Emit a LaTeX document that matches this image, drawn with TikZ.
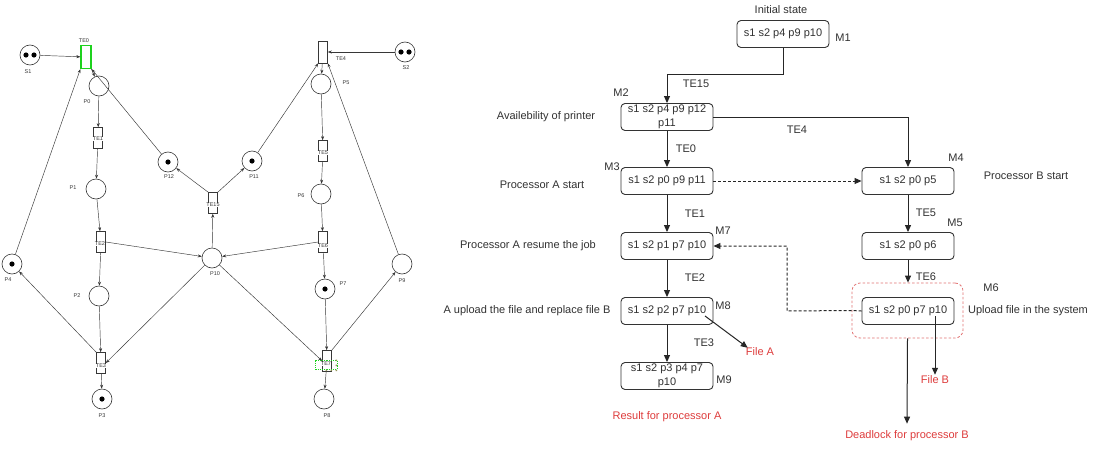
\documentclass[tikz,border=0pt]{standalone}
\usepackage{fontspec}
\setmainfont{Liberation Sans}
\usetikzlibrary{arrows.meta}
\definecolor{txt}{RGB}{50,50,50}
\definecolor{redtxt}{RGB}{222,60,60}
\definecolor{redbox}{RGB}{226,115,115}
\definecolor{selgreen}{RGB}{30,210,30}
\definecolor{handle}{RGB}{150,150,90}
\definecolor{netgray}{RGB}{55,55,55}
\begin{document}
\begin{tikzpicture}[x=1pt,y=-1pt,
  every node/.style={text=txt},
  state/.style={draw=black!80, rounded corners=4pt, minimum width=92pt, minimum height=27pt,
    inner sep=1pt, align=center, font=\fontsize{11}{13.5}\selectfont, line width=0.9pt},
  note/.style={font=\fontsize{11}{13}\selectfont, inner sep=1pt},
  rnote/.style={note, text=redtxt},
  arr/.style={-{Triangle[length=7pt,width=6pt]}, line width=1pt, black!85},
  darr/.style={arr, dash pattern=on 3pt off 2pt},
  place/.style={circle, draw=netgray, line width=0.6pt, minimum size=20pt, inner sep=0pt},
  trans/.style={draw=netgray, line width=0.6pt, minimum width=9pt, minimum height=21pt, inner sep=0pt},
  seltrans/.style={draw=selgreen, line width=1.3pt, minimum width=10pt, minimum height=23pt, inner sep=0pt},
  tlabel/.style={font=\fontsize{5.5}{5.5}\selectfont, fill=white, inner sep=0.4pt, text=netgray},
  plabel/.style={font=\fontsize{5.5}{6}\selectfont, inner sep=0.5pt, text=netgray},
  pn/.style={-{Stealth[length=4pt,width=3pt]}, line width=0.45pt, netgray}
]
\fill[white] (0,0) rectangle (1099,455);
\useasboundingbox (0,0) rectangle (1099,455);

% ---------------- Petri net ----------------
% places
\node[place] (S1) at (30,55) {};
\node[place] (P0) at (99,86) {};
\node[place] (P1) at (96,189) {};
\node[place] (P12) at (168,162) {};
\node[place] (P11) at (252,161) {};
\node[place] (S2) at (405,52) {};
\node[place] (P5) at (321,84) {};
\node[place] (P6) at (321,194) {};
\node[place] (P10) at (212,258) {};
\node[place] (P7) at (325,289) {};
\node[place] (P9) at (402,264) {};
\node[place] (P8) at (324,399) {};
\node[place] (P4) at (12,264) {};
\node[place] (P2) at (99,296) {};
\node[place] (P3) at (102,399) {};
% tokens
\fill[black] (26,55) circle (2.6) (34,55) circle (2.6);
\fill[black] (401,52) circle (2.6) (409,52) circle (2.6);
\fill[black] (168,162) circle (2.6);
\fill[black] (252,161) circle (2.6);
\fill[black] (325,289) circle (2.6);
\fill[black] (12,264) circle (2.6);
\fill[black] (102,399) circle (2.6);

% transitions
\node[trans] (TE1) at (98,138) {};
\node[trans] (TE2) at (101,242) {};
\node[trans] (TE3) at (101,363) {};
\node[trans] (TE15) at (213,203) {};
\node[trans, minimum height=22pt] (TE4) at (323,52) {};
\node[trans] (TE5) at (323,151) {};
\node[trans] (TE6) at (323,242) {};
\node[trans] (TE7) at (327,361) {};

% arcs
\draw[pn] (P0) -- (TE1);
\draw[pn] (TE1) -- (P1);
\draw[pn] (P1) -- (TE2);
\draw[pn] (TE2) -- (P2);
\draw[pn] (TE2.east) -- (P10);
\draw[pn] (P2) -- (TE3);
\draw[pn] (P10) -- (TE3.east);
\draw[pn] (TE3) -- (P3);
\draw[pn] (TE3.north west) -- (P4);
\draw[pn] (TE15.north west) -- (P12);
\draw[pn] (TE15.north east) -- (P11);
\draw[pn] (P10) -- (TE15);
\draw[pn] (P11) -- (TE4.south west);
\draw[pn] (S2) -- (TE4.east);
\draw[pn] (TE4) -- (P5);
\draw[pn] (P5) -- (TE5);
\draw[pn] (TE5) -- (P6);
\draw[pn] (P6) -- (TE6);
\draw[pn] (TE6.west) -- (P10);
\draw[pn] (TE6) -- (P7);
\draw[pn] (P7) -- (TE7);
\draw[pn] (P10) -- (TE7.west);
\draw[pn] (TE7.north east) -- (P9);
\draw[pn] (TE7) -- (P8);
\draw[pn] (P9) -- (TE4.south east);

% selected transition TE0 (drawn on top)
\node[seltrans] (TE0) at (86,57) {};
\draw[pn] (S1) -- (TE0);
\draw[pn] (TE0) -- (P0);
\draw[pn] (P4) -- (TE0.south west);
\draw[pn] (P12) -- (TE0.south east);

% transition labels
\node[tlabel] (lTE1) at (98,139) {TE1};
\node[tlabel] (lTE2) at (100,244) {TE2};
\node[tlabel] (lTE3) at (101,366) {TE3};
\node[tlabel] (lTE15) at (213,205) {TE15};
\node[tlabel] (lTE5) at (323,153) {TE5};
\node[tlabel] (lTE6) at (323,246) {TE6};
\node[tlabel] (lTE7) at (326,364) {TE7};
\draw[selgreen, line width=0.6pt, dash pattern=on 1.2pt off 1pt] (315,360.5) rectangle (337,369);
\fill[handle] (335.5,359.5) rectangle +(1.6,1.6) (335.5,364.5) rectangle +(1.6,1.6)
  (335.5,369.5) rectangle +(1.6,1.6) (330.5,369.5) rectangle +(1.6,1.6) (325.5,369.5) rectangle +(1.6,1.6);
\node[plabel] (lTE0) at (84,41) {TE0};
\node[plabel] (lTE4) at (341,59) {TE4};

% place labels
\node[plabel] (lS1) at (28,72) {S1};
\node[plabel] (lP0) at (87,102) {P0};
\node[plabel] (lP1) at (73,188) {P1};
\node[plabel] (lP12) at (169,177) {P12};
\node[plabel] (lP11) at (254,177) {P11};
\node[plabel] (lS2) at (406,68) {S2};
\node[plabel] (lP5) at (346,83) {P5};
\node[plabel] (lP6) at (301,196) {P6};
\node[plabel] (lP10) at (215,274) {P10};
\node[plabel] (lP7) at (343,284) {P7};
\node[plabel] (lP9) at (402,281) {P9};
\node[plabel] (lP8) at (327,416) {P8};
\node[plabel] (lP4) at (8,280) {P4};
\node[plabel] (lP2) at (77,296) {P2};
\node[plabel] (lP3) at (102,416) {P3};

% ---------------- Reachability graph ----------------
\node[state] (M1) at (783,34) {s1 s2 p4 p9 p10};
\node[state] (M2) at (667,117) {s1 s2 p4 p9 p12\\p11};
\node[state] (M3) at (667,181) {s1 s2 p0 p9 p11};
\node[state] (M4) at (908,181) {s1 s2 p0 p5};
\node[state] (M5) at (908,246) {s1 s2 p0 p6};
\node[state] (M6) at (908,311) {s1 s2 p0 p7 p10};
\node[state] (M7) at (667,246) {s1 s2 p1 p7 p10};
\node[state] (M8) at (667,311) {s1 s2 p2 p7 p10};
\node[state] (M9) at (667,376) {s1 s2 p3 p4 p7\\p10};
\node[draw=redbox, line width=0.8pt, dash pattern=on 2.5pt off 2pt, rounded corners=8pt,
  minimum width=111pt, minimum height=55pt] (M6frame) at (907.5,310.5) {};

\node[note] (tM1) at (843,38) {M1};
\node[note] (tM2) at (621,93) {M2};
\node[note] (tM3) at (612,167) {M3};
\node[note] (tM4) at (956,158) {M4};
\node[note] (tM5) at (955,223) {M5};
\node[note] (tM6) at (991,288) {M6};
\node[note] (tM7) at (723,231) {M7};
\node[note] (tM8) at (723,306) {M8};
\node[note] (tM9) at (724,380) {M9};

\node[note] (init) at (781,10) {Initial state};
\node[note] (avail) at (546,117) {Availebility of printer};
\node[note] (pas) at (542,185) {Processor A start};
\node[note] (pbs) at (1026,176) {Processor B start};
\node[note] (par) at (528,246) {Processor A resume the job};
\node[note] (aup) at (527,311) {A upload the file and replace file B};
\node[note] (ufs) at (1028,311) {Upload file in the system};

\node[note] (lte15) at (696,84) {TE15};
\node[note] (lte4) at (797,130) {TE4};
\node[note] (lte0) at (686,149) {TE0};
\node[note] (lte1) at (695,214) {TE1};
\node[note] (lte2) at (695,278) {TE2};
\node[note] (lte3) at (704,343) {TE3};
\node[note] (lte5) at (926,213) {TE5};
\node[note] (lte6) at (926,277) {TE6};

\node[rnote] (fileA) at (760,352) {File A};
\node[rnote] (fileB) at (935,380) {File B};
\node[rnote] (resA) at (667,417) {Result for processor A};
\node[rnote] (deadB) at (907,436) {Deadlock for processor B};

\draw[arr] (M1.south) -- ++(0,27) -| (M2.north);
\draw[arr] (M2.east) -| (M4.north);
\draw[arr] (M2) -- (M3);
\draw[darr] (M3) -- (M4);
\draw[arr] (M3) -- (M7);
\draw[arr] (M7) -- (M8);
\draw[arr] (M8) -- (M9);
\draw[arr] (M4) -- (M5);
\draw[arr] (M5) -- (M6frame.north -| M5.south);
\coordinate (bend) at (787,311);
\draw[darr] (M6frame.west) -- (bend) |- (M7.east);
\draw[darr, -] (M6.west) -- (M6frame.west);
\coordinate (fbStart) at (935,316);
\draw[arr] (fbStart) -- (fileB.north);
\coordinate (faStart) at (705,316);
\draw[arr] (faStart) -- ([xshift=3pt,yshift=-1pt]fileA.north west);
\draw[arr] (M6frame.south) -- ([yshift=6pt]deadB.north);
\end{tikzpicture}
\end{document}
